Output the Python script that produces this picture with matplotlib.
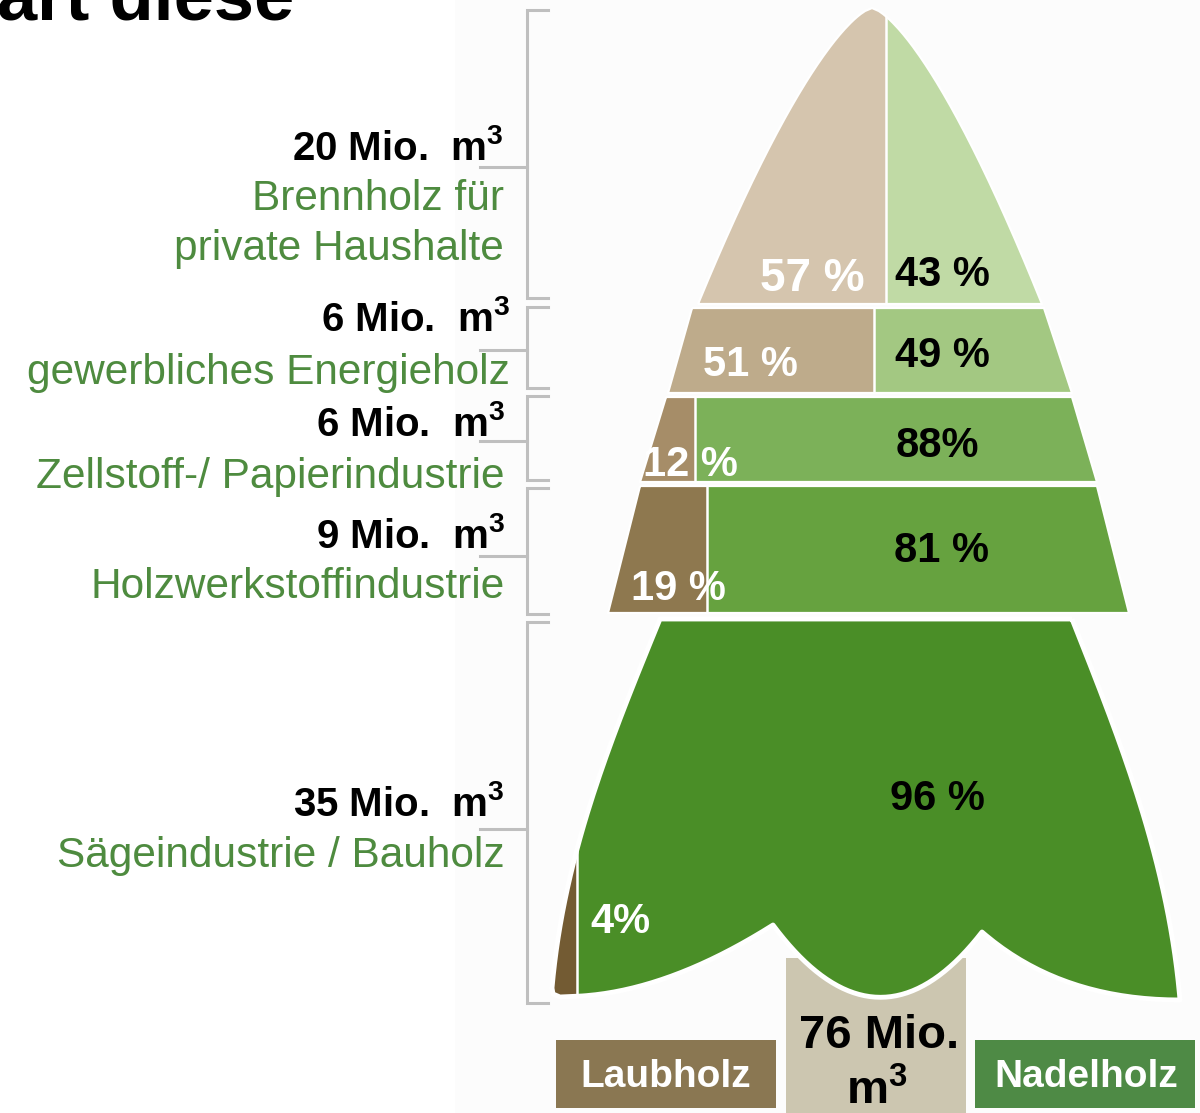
import numpy as np
import matplotlib
matplotlib.use("Agg")
import matplotlib.pyplot as plt
from matplotlib.patches import Rectangle, PathPatch
from matplotlib.path import Path
from matplotlib import font_manager

# ---------------- data ----------------
categories = ["Brennholz für\nprivate Haushalte", "gewerbliches Energieholz",
              "Zellstoff-/ Papierindustrie", "Holzwerkstoffindustrie",
              "Sägeindustrie / Bauholz"]
volumes = [20, 6, 6, 9, 35]          # Mio. m³
laub_pct = [57, 51, 12, 19, 4]       # Laubholz share (%)
nadel_pct = [43, 49, 88, 81, 96]     # Nadelholz share (%)
laub_sep = [" ", " ", " ", " ", ""]
nadel_sep = [" ", " ", "", " ", " "]
total = 76
legend_labels = ["Laubholz", "Nadelholz"]
title_text = "art diese"

# ---------------- style / layout ----------------
laub_colors = ["#D5C5AE", "#BEAB8B", "#A68D68", "#8E784F", "#735B33"]
nadel_colors = ["#C0DAA5", "#A3C882", "#7CB159", "#66A23F", "#4A8E27"]
green_txt = "#4E8B3F"
bracket_col = "#BFBFBF"
bg_right = "#FCFCFC"

tier_top = [8, 308, 397, 486, 619]
tier_bot = [304, 393, 482, 613, 997]
left_top = [872, 692, 666, 640, 660]
left_bot = [698, 668, 640, 608, 552]
right_top = [872, 1044, 1072, 1097, 1072]
right_bot = [1042, 1072, 1097, 1129, 1180]
div_ref = [0.5, 1.0, 1.0, 1.0, 1.0]   # height fraction where the split is measured

laub_lx = [812, 750, 690, 678, 620]
laub_base = [291, 376, 476, 600, 933]
laub_size = [33, 30, 30, 30, 30]
nadel_lx = [942, 942, 937, 942, 937]
nadel_base = [286, 367, 457, 562, 810]
nadel_size = [30, 30, 30, 30, 30]

label_right = [504, 510, 505, 505, 505]
vol_base = [160, 331, 436, 548, 816]
cat_base = [210, 384, 488, 598, 867]
line_gap = 50

br_top = [10, 307, 396, 488, 622]
br_bot = [298, 388, 480, 614, 1003]
br_mid = [167, 350, 441, 556, 829]


def pick(fams):
    for f in fams:
        try:
            font_manager.findfont(font_manager.FontProperties(family=f),
                                  fallback_to_default=False)
            return f
        except Exception:
            continue
    return "DejaVu Sans"


SANS = pick(["Liberation Sans", "Arial", "DejaVu Sans"])
plt.rcParams["mathtext.fontset"] = "custom"
plt.rcParams["mathtext.rm"] = SANS
plt.rcParams["mathtext.bf"] = SANS + ":bold"
plt.rcParams["mathtext.it"] = SANS + ":bold"
plt.rcParams["mathtext.default"] = "bf"

fig = plt.figure(figsize=(12, 11.13), dpi=100)
ax = fig.add_axes([0, 0, 1, 1])
ax.set_xlim(0, 1200)
ax.set_ylim(1113, 0)
ax.axis("off")

ax.add_patch(Rectangle((455, 0), 745, 1113, facecolor=bg_right, edgecolor="none", zorder=0))


def qbez(p0, p1, p2, n=40):
    t = np.linspace(0, 1, n)[:, None]
    p0, p1, p2 = map(np.array, (p0, p1, p2))
    return (1 - t) ** 2 * p0 + 2 * (1 - t) * t * p1 + t ** 2 * p2


def top_shape(t):
    return t ** 0.7


def bell(t):
    return 0.3 * t + 0.7 * np.sin(t * np.pi / 2)


def outline(i):
    y0, y1 = tier_top[i], tier_bot[i]
    if i == 0:
        ys = np.linspace(y0, y1, 100)
        t = (ys - y0) / (y1 - y0)
        f = top_shape(t)
        xl = left_top[0] - (left_top[0] - left_bot[0]) * f
        xr = right_top[0] + (right_bot[0] - right_top[0]) * f
        pts = np.vstack([np.column_stack([xl[::-1], ys[::-1]]),
                         np.column_stack([xr, ys])])
        return pts
    if i < 4:
        return np.array([(left_top[i], y0), (right_top[i], y0),
                         (right_bot[i], y1), (left_bot[i], y1)])
    # bottom tier: bell-shaped sides and scalloped base
    ys = np.linspace(y0, 1000, 60)
    t = (ys - y0) / (1000 - y0)
    xr = right_top[4] + (right_bot[4] - right_top[4]) * bell(t)
    right_side = np.column_stack([xr, ys])
    ysl = np.linspace(y0, 988, 60)
    tl = (ysl - y0) / (988 - y0)
    xl = left_top[4] + (left_bot[4] - left_top[4]) * bell(tl)
    left_side = np.column_stack([xl, ysl])[::-1]
    lobe_r = qbez((1180, 1000), (1060, 1000), (982, 932))
    lobe_m = qbez((982, 932), (878, 1066), (773, 925))
    lobe_l = qbez((773, 925), (670, 990), (582, 996))
    corner = np.array([(560, 997), (553, 994)])
    pts = np.vstack([right_side, lobe_r, lobe_m, lobe_l, corner, left_side])
    return pts


def width_at(i, frac):
    if i == 0:
        f = top_shape(frac)
        return (left_top[0] - (left_top[0] - left_bot[0]) * f,
                right_top[0] + (right_bot[0] - right_top[0]) * f)
    return (left_top[i] + (left_bot[i] - left_top[i]) * frac,
            right_top[i] + (right_bot[i] - right_top[i]) * frac)


# trunk
ax.add_patch(Rectangle((786, 958), 180, 170, facecolor="#CCC6B0", edgecolor="none", zorder=1))

for i in range(5):
    pts = outline(i)
    path = Path(pts, closed=False)
    clip = PathPatch(path, transform=ax.transData, facecolor="none", edgecolor="none")
    ax.add_patch(clip)
    xl_ref, xr_ref = width_at(i, div_ref[i])
    xdiv = xl_ref + laub_pct[i] / 100.0 * (xr_ref - xl_ref)
    ymin, ymax = pts[:, 1].min() - 5, pts[:, 1].max() + 5
    xmin, xmax = pts[:, 0].min() - 5, pts[:, 0].max() + 5
    rl = Rectangle((xmin, ymin), xdiv - xmin, ymax - ymin, facecolor=laub_colors[i],
                   edgecolor="none", zorder=2)
    rr = Rectangle((xdiv, ymin), xmax - xdiv, ymax - ymin, facecolor=nadel_colors[i],
                   edgecolor="none", zorder=2)
    ax.add_patch(rl)
    ax.add_patch(rr)
    rl.set_clip_path(clip)
    rr.set_clip_path(clip)
    ln, = ax.plot([xdiv, xdiv], [ymin, ymax], color="white", lw=1.8, zorder=3)
    ln.set_clip_path(clip)
    ax.add_patch(PathPatch(Path(np.vstack([pts, pts[:1]])), facecolor="none",
                           edgecolor="white", lw=3.5 if i == 4 else 1.6, zorder=3,
                           joinstyle="round"))

    # percent labels
    ax.text(laub_lx[i], laub_base[i], f"{laub_pct[i]}{laub_sep[i]}%", color="white",
            fontsize=laub_size[i], fontweight="bold", family=SANS, ha="center",
            va="baseline", zorder=5)
    ax.text(nadel_lx[i], nadel_base[i], f"{nadel_pct[i]}{nadel_sep[i]}%", color="black",
            fontsize=nadel_size[i], fontweight="bold", family=SANS, ha="center",
            va="baseline", zorder=5)

    # left labels
    ax.text(label_right[i], vol_base[i], f"{volumes[i]} Mio.  $m^{{3}}$", color="black",
            fontsize=29, fontweight="bold", family=SANS, ha="right", va="baseline")
    for k, line in enumerate(categories[i].split("\n")):
        ax.text(label_right[i], cat_base[i] + k * line_gap, line, color=green_txt,
                fontsize=30.5, family=SANS, ha="right", va="baseline")

    # brackets
    ax.plot([548, 527, 527, 548], [br_top[i], br_top[i], br_bot[i], br_bot[i]],
            color=bracket_col, lw=2.2, solid_joinstyle="miter", zorder=1)
    ax.plot([480, 527], [br_mid[i], br_mid[i]], color=bracket_col, lw=2.2, zorder=1)

# total in trunk
ax.text(879, 1048, f"{total} Mio.", fontsize=34, fontweight="bold", family=SANS,
        ha="center", va="baseline", zorder=5)
ax.text(877, 1104, "$m^{3}$", fontsize=34, fontweight="bold", family=SANS,
        ha="center", va="baseline", zorder=5)

# legend boxes
ax.add_patch(Rectangle((556, 1040), 220, 68, facecolor="#8A7752", edgecolor="none", zorder=4))
ax.text(666, 1087, legend_labels[0], color="white", fontsize=28, fontweight="bold",
        family=SANS, ha="center", va="baseline", zorder=5)
ax.add_patch(Rectangle((975, 1040), 220, 68, facecolor="#4E8A45", edgecolor="none", zorder=4))
ax.text(1086, 1087, legend_labels[1], color="white", fontsize=28, fontweight="bold",
        family=SANS, ha="center", va="baseline", zorder=5)

# cut-off title
ax.text(-3, 20, title_text, fontsize=52, fontweight="bold", family=SANS,
        ha="left", va="baseline", color="black")

fig.savefig("out.png", dpi=100, facecolor="white")
